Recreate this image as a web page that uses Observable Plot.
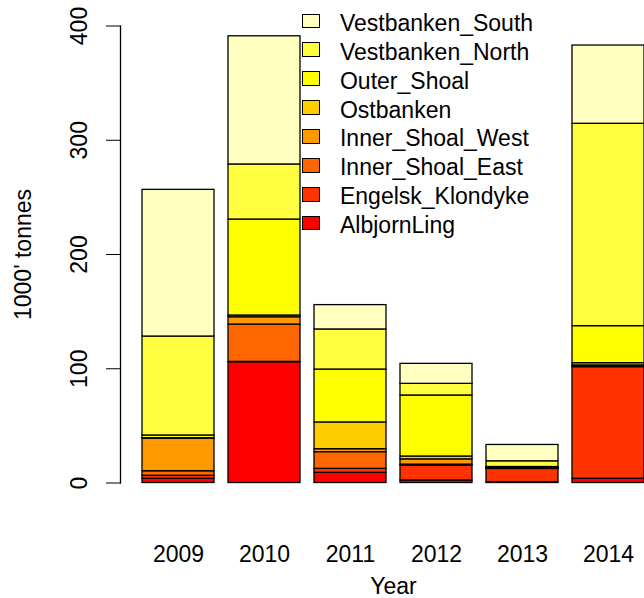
<!DOCTYPE html>
<html><head><meta charset="utf-8">
<script src="https://cdn.jsdelivr.net/npm/d3@7"></script>
<script src="https://cdn.jsdelivr.net/npm/@observablehq/plot@0.6"></script>
<style>
body{margin:0;background:#fff;font-family:"Liberation Sans",Arial,Helvetica,sans-serif;}
#wrap{position:relative;width:644px;height:598px;overflow:hidden;background:#fff}
#legend{position:absolute;left:301.7px;top:6.45px;}
.row{display:flex;align-items:center;height:28.9px;}
.sw{box-sizing:border-box;width:18px;height:14.6px;border:1.3px solid #000;margin-right:20.3px;}
.lab{font-size:23px;color:#000;white-space:nowrap;position:relative;top:2.5px;}
</style></head><body><div id="wrap"><div id="chart"></div><div id="legend"></div></div>
<script>
const years = ["2009","2010","2011","2012","2013","2014"];
const regions = ["AlbjornLing","Engelsk_Klondyke","Inner_Shoal_East","Inner_Shoal_West","Ostbanken","Outer_Shoal","Vestbanken_North","Vestbanken_South"];
const colors = ["#FF0000","#FF3300","#FF6600","#FF9900","#FFCC00","#FFFF00","#FFFF40","#FFFFBF"];
const yTicks = [0,100,200,300,400];
const AlbjornLing      = [3.7, 105.7, 8.9, 2.2, 0.8, 3.7];
const Engelsk_Klondyke = [2.6, 0.3, 3.5, 13.1, 11.5, 97.7];
const Inner_Shoal_East = [4.0, 32.7, 14.6, 0.8, 0.4, 0.5];
const Inner_Shoal_West = [28.4, 6.4, 2.6, 4.6, 0.4, 1.0];
const Ostbanken        = [0.5, 1.5, 23.4, 2.5, 0.4, 2.0];
const Outer_Shoal      = [2.4, 84.0, 46.3, 53.4, 0.5, 32.4];
const Vestbanken_North = [86.6, 48.2, 35.1, 10.2, 5.0, 177.1];
const Vestbanken_South = [128.4, 112.2, 21.3, 17.5, 14.3, 68.5];

const series = {AlbjornLing, Engelsk_Klondyke, Inner_Shoal_East, Inner_Shoal_West, Ostbanken, Outer_Shoal, Vestbanken_North, Vestbanken_South};
const data = regions.flatMap(r => years.map((y, i) => ({year: y, region: r, value: series[r][i]})));

const font = '"Liberation Sans", Arial, Helvetica, sans-serif';
const chart = Plot.plot({
  width: 644, height: 598,
  marginLeft: 120, marginRight: 0, marginTop: 25.5, marginBottom: 115.5,
  style: {fontFamily: font, fontSize: "23px", background: "#fff", color: "#000"},
  x: {type: "band", domain: years, range: [133.8, 652.2], paddingInner: 1/6, paddingOuter: 1/12, align: 0.5},
  y: {domain: [0, 400]},
  color: {domain: regions, range: colors},
  marks: [
    Plot.barY(data, {x: "year", y: "value", fill: "region", stroke: "#000", strokeWidth: 1.3}),
    Plot.frame({anchor: "left", stroke: "#000", strokeWidth: 1.3}),
    Plot.axisY({ticks: yTicks, tickSize: 14, tickPadding: 20, tickRotate: -90, fontSize: 23,
      label: "1000' tonnes", labelAnchor: "center", labelArrow: "none", labelOffset: 106}),
    Plot.axisX({tickSize: 0, tickPadding: 63, fontSize: 23, label: null}),
    Plot.text(["Year"], {frameAnchor: "bottom", dx: 11, dy: 111, fontSize: 23, lineAnchor: "bottom"})
  ]
});
document.getElementById("chart").appendChild(chart);

const legend = document.getElementById("legend");
regions.slice().reverse().forEach(r => {
  const row = document.createElement("div");
  row.className = "row";
  const sw = document.createElement("div");
  sw.className = "sw";
  sw.style.background = colors[regions.indexOf(r)];
  const lab = document.createElement("span");
  lab.className = "lab";
  lab.textContent = r;
  row.appendChild(sw); row.appendChild(lab);
  legend.appendChild(row);
});
</script></body></html>
